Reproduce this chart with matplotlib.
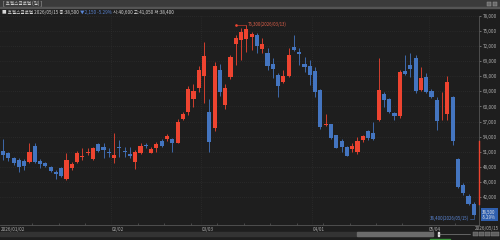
import matplotlib
matplotlib.use("Agg")
import matplotlib.pyplot as plt
from matplotlib.patches import Rectangle
import numpy as np
import pandas as pd

plt.rcParams["font.family"] = ["Noto Sans CJK KR", "DejaVu Sans"]

# ==========================================
# DATA (daily candles)
# ==========================================
STOCK_NAME = "휴젤스글로벌"
PERIOD = "일"

holidays = ["2026-02-16", "2026-02-17", "2026-02-18", "2026-03-02", "2026-05-01", "2026-05-05"]
dates = pd.bdate_range("2026-01-02", "2026-05-15")
dates = dates[~dates.isin(pd.to_datetime(holidays))]

open_ = [51150, 50700, 49800, 49350, 49150, 49000, 52150, 49200, 48700, 48000,
         46900, 47700, 45600, 47700, 48900, 49900, 50800, 49550, 52500, 51900,
         51000, 49800, 51900, 51150, 50550, 49000, 50700, 52350, 50800, 51700,
         53150, 53450, 53550, 52800, 57500, 58950, 61500, 63650, 66050, 58950,
         55650, 67250, 60300, 65800, 72350, 73200, 73350, 73750, 74200, 71400,
         70700, 68450, 66250, 64800, 66100, 71900, 70900, 68450, 68100, 67050,
         63250, 56250, 56450, 54250, 53200, 52000, 51500, 50900, 53350, 55100,
         54650, 57300, 62500, 61400, 58650, 58150, 67100, 68250, 69700, 63250,
         65900, 63150, 61300, 59850, 58500, 61950, 49550, 44400, 42250, 40600]
close = [50350, 49700, 48700, 48000, 48200, 51000, 49000, 48500, 48200, 47150,
         46550, 46150, 49350, 48500, 50800, 50150, 51000, 51800, 51200, 51350,
         50700, 50350, 51700, 50900, 50200, 50900, 52200, 52100, 51550, 52550,
         52200, 54150, 52800, 56950, 58500, 63450, 63050, 67250, 70050, 53000,
         68050, 62850, 63650, 69750, 73650, 74850, 75350, 74400, 72000, 72350,
         68100, 67450, 64150, 66100, 70250, 71200, 70350, 67900, 66250, 62950,
         56000, 56500, 53650, 51800, 51900, 50200, 52150, 53200, 54150, 53650,
         53550, 63250, 61300, 58950, 58100, 66900, 66450, 67400, 63150, 65600,
         62950, 61950, 57150, 59950, 64800, 53200, 43950, 42800, 40650, 38500]
high = [53450, 51000, 50000, 49700, 49500, 52700, 52700, 49500, 49000, 48200,
        47350, 48000, 50700, 49000, 51150, 51700, 51700, 52000, 52700, 52700,
        51700, 54800, 53350, 52000, 52000, 51350, 52700, 52700, 52000, 52850,
        53450, 54500, 53650, 57450, 58950, 64050, 64450, 68050, 72800, 61500,
        68850, 68450, 64450, 70250, 74200, 75550, 76300, 74850, 74550, 73550,
        71550, 69550, 66600, 67250, 71550, 74200, 71550, 69900, 69250, 67900,
        63400, 58500, 56500, 54300, 53450, 52150, 52700, 54000, 54300, 55300,
        56950, 69550, 62950, 61600, 58950, 67250, 70250, 70550, 70250, 67900,
        66600, 63450, 61950, 62950, 66050, 62100, 49700, 44700, 42600, 41050]
low = [49350, 49200, 48350, 47050, 47350, 48700, 48700, 47700, 48000, 47050,
       45500, 45900, 45400, 47350, 48700, 49350, 50350, 49350, 50900, 49700,
       50000, 48800, 50000, 50000, 49700, 47500, 50500, 51700, 50700, 51000,
       52000, 53150, 50900, 52700, 57300, 58300, 59950, 62850, 60700, 51000,
       55100, 62100, 59450, 65400, 68250, 69250, 70900, 71200, 70550, 70550,
       67250, 65600, 61950, 64600, 65900, 71000, 68250, 66900, 64250, 61950,
       55450, 56100, 53450, 51700, 51000, 50150, 51000, 50550, 53000, 53350,
       53350, 57100, 59950, 58650, 57300, 57650, 66250, 65900, 62750, 63050,
       62750, 61600, 55300, 57300, 57300, 52350, 43750, 42400, 40400, 38400]

prev_close = 40650
price_ticks = list(range(42000, 78001, 3000))

# ==========================================
# STYLE
# ==========================================
BG = "#1e1e1e"
RED = "#ee4430"
BLUE = "#4475c0"
GRID = "#333333"
TXT = "#b0b0b0"
FS = 3.3

fig = plt.figure(figsize=(5, 2.4), dpi=100, facecolor=BG)

# window chrome in pixel coordinates
ui = fig.add_axes([0, 0, 1, 1], zorder=0)
ui.set_xlim(0, 500)
ui.set_ylim(240, 0)
ui.axis("off")
ui.add_patch(Rectangle((0, 0), 500, 7, color="#3b3b3b"))
ui.add_patch(Rectangle((0, 7), 500, 0.6, color="#555555"))
ui.text(3, 3.6, f"[ {STOCK_NAME} ({PERIOD}) ]", fontsize=FS, color="#cfcfcf", va="center")
for bx in (486.5, 492.5):
    ui.add_patch(Rectangle((bx, 1.5), 4.5, 4, facecolor="#6a6a6a", edgecolor="#a0a0a0", lw=0.3))

# header quote line
last = len(close) - 1
chg = close[last] - prev_close
pct = chg / prev_close * 100
parts = [
    (f"■ {STOCK_NAME} {dates[last]:%Y/%m/%d} 종:{close[last]:,} ", "#d8d8d8"),
    (f"▼{abs(chg):,} {pct:.2f}% ", "#5a86d6"),
    (f"시:{open_[last]:,} 고:{high[last]:,} 저:{low[last]:,}", "#d8d8d8"),
]
renderer = fig.canvas.get_renderer()
xpos = 2
for s, col in parts:
    t = ui.text(xpos, 12, s, fontsize=FS, color=col, va="center")
    bb = t.get_window_extent(renderer=renderer)
    xpos += bb.width

# last session date at the right end of the time axis
ui.text(499, 228.3, dates[len(dates) - 1].strftime("%Y/%m/%d"), fontsize=FS, color=TXT,
        ha="right", va="center")

# scroll bar
ui.add_patch(Rectangle((0, 231.5), 433, 4.5, color="#333333"))
ui.add_patch(Rectangle((357, 231.5), 76, 4.5, color="#6b6b6b"))
ui.plot([438, 470], [233.7, 233.7], color="#9a9a9a", lw=0.4)
ui.add_patch(Rectangle((437.5, 231.8), 1.8, 3.8, color="#dddddd"))
for bx, bw in ((472.5, 5), (478.5, 5), (484.5, 5), (490.5, 8.5)):
    ui.add_patch(Rectangle((bx, 231.5), bw, 4.5, facecolor="#5e5e5e", edgecolor="#8a8a8a", lw=0.3))
ui.add_patch(Rectangle((430, 238.5), 20, 1.5, color="#3b9a3b"))

# ==========================================
# CANDLE CHART
# ==========================================
ax = fig.add_axes([0, 15 / 240, 479 / 500, 209 / 240], zorder=1)
ax.set_facecolor(BG)

x = np.arange(len(dates))
o = np.array(open_)
c = np.array(close)
colors = np.where(c >= o, RED, BLUE)

ax.vlines(x, low, high, colors=colors, lw=0.6, zorder=3)
ax.bar(x, np.maximum(np.abs(c - o), 120), bottom=np.minimum(o, c), width=0.78,
       color=colors, lw=0, zorder=4)

ax.set_xlim(-0.57, 89.98)
ax.set_ylim(36430, 78000)

# price axis on the right
ax.yaxis.tick_right()
ax.set_yticks(price_ticks)
ax.set_yticklabels([f"{v:,}" for v in price_ticks])
ax.tick_params(axis="y", colors=TXT, labelsize=FS, length=1.5, width=0.4, pad=1.2)
ax.grid(axis="y", color=GRID, ls=(0, (1, 2)), lw=0.5)

# date axis: month starts labelled, every fifth session ticked
month_idx = [0] + [i for i in range(1, len(dates)) if dates[i].month != dates[i - 1].month]
month_lbl = [dates[0].strftime("%Y/%m/%d")] + [dates[i].strftime("%m/%d") for i in month_idx[1:]]
ax.set_xticks([i - 0.5 for i in month_idx])
ax.set_xticklabels(month_lbl)
for lbl in ax.get_xticklabels():
    lbl.set_ha("left")
ax.set_xticks(np.arange(5.5, len(dates), 5), minor=True)
ax.tick_params(axis="x", which="major", colors=TXT, labelsize=FS, length=0, pad=1.5)
ax.tick_params(axis="x", which="minor", direction="in", length=1.5, width=0.4, color="#6a6a6a")
for i in month_idx[1:]:
    ax.axvline(i - 0.5, color=GRID, ls=(0, (1, 2)), lw=0.5, zorder=1)

for side in ("top", "left"):
    ax.spines[side].set_visible(False)
for side in ("right", "bottom"):
    ax.spines[side].set_color("#555555")
    ax.spines[side].set_linewidth(0.6)

# right-axis range bar and current price box
ax.plot([1, 1], [open_[last], close[85]], transform=ax.get_yaxis_transform(),
        color=RED, lw=1.0, clip_on=False, zorder=5)
ax.annotate(f"{close[last]:,}\n{pct:.2f}%", xy=(1, close[last]), xycoords=ax.get_yaxis_transform(),
            xytext=(2.3, 0), textcoords="offset points", fontsize=FS - 0.2, color="#e8e8e8",
            va="center", ha="left", linespacing=1.0, annotation_clip=False, zorder=6,
            bbox=dict(boxstyle="square,pad=0.35", fc="#2f5fae", ec="#2f5fae", lw=0))

# highest / lowest markers
imax = int(np.argmax(high))
imin = int(np.argmin(low))
ax.plot([imax - 2, imax], [high[imax]] * 2, color=RED, lw=0.4, zorder=5)
ax.plot(imax - 2, high[imax], "o", ms=0.9, color=RED, zorder=5)
ax.text(imax + 0.2, high[imax], f"{high[imax]:,}({dates[imax]:%Y/%m/%d})",
        fontsize=FS - 0.2, color="#e0604a", va="center", ha="left", zorder=5)
ax.plot([imin - 0.8, imin, imin], [low[imin] - 700, low[imin] - 700, low[imin]],
        color=BLUE, lw=0.4, zorder=5)
ax.text(imin - 0.9, low[imin] - 700, f"{low[imin]:,}({dates[imin]:%Y/%m/%d})",
        fontsize=FS - 0.2, color="#5a86d6", va="center", ha="right", zorder=5)

fig.savefig("out.png", dpi=100, facecolor=BG)
